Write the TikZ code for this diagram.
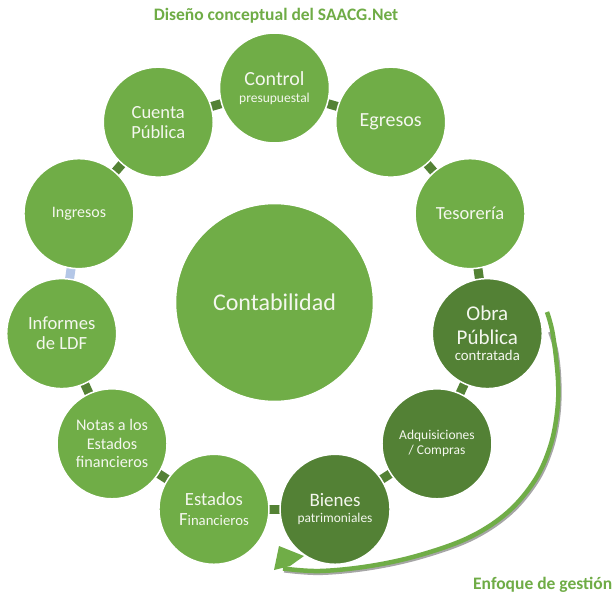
\documentclass[tikz,border=0pt]{standalone}
\usepackage{fontspec}
\setmainfont{Carlito}
\usetikzlibrary{calc}
\definecolor{lg}{HTML}{70AD47}
\definecolor{dg}{HTML}{538135}
\definecolor{cg}{HTML}{548235}
\definecolor{lb}{HTML}{B4C7E7}
\definecolor{txt}{HTML}{F4F7EE}
\definecolor{ttl}{HTML}{6FAC46}
\newcommand\myfs[2]{\fontsize{#1}{#2}\selectfont}
\pgfdeclarelayer{paper}
\pgfdeclarelayer{bg}
\pgfsetlayers{paper,bg,main}
\begin{document}
\begin{tikzpicture}[x=1pt,y=-1pt,
  bub/.style={circle, draw=white, line width=1.5pt, inner sep=0pt,
    minimum size=110pt, text=txt, align=center, fill=lg},
  darkbub/.style={bub, fill=dg},
  link/.style={line width=9pt, draw=cg},
  lightlink/.style={line width=9pt, draw=lb},
  title/.style={font=\bfseries\myfs{17.5}{20}, text=ttl, inner sep=0pt},
  arrowline/.style={line width=4.5pt, draw=lg},
  arrowshadow/.style={line width=4.5pt, draw=black!35},
]
\begin{pgfonlayer}{paper}
  \fill[white] (0,0) rectangle (616,594);
\end{pgfonlayer}
\useasboundingbox (0,0) rectangle (616,594);

% ring positions: centre (274.5,303), radius 215
\def\pos#1{({274.5+215*cos(#1)},{303-215*sin(#1)})}

\node[bub, minimum size=198pt, font=\myfs{24}{26}] (conta) at (274.5,302.5) {Contabilidad};

\node[bub, font=\myfs{20}{17}] (ctrl) at \pos{90} {Control\\{\myfs{13.5}{15}presupuestal}};
\node[bub, font=\myfs{20}{22}] (egr) at \pos{57.27} {Egresos};
\node[bub, font=\myfs{18.5}{20}] (tes) at \pos{24.55} {Tesorería};
\node[darkbub, font=\myfs{21}{24}] (obra) at \pos{-8.18} {Obra\\Pública\\[-8pt]{\myfs{14.8}{16}contratada}};
\node[darkbub, font=\myfs{13.5}{15}] (adq) at \pos{-40.91} {Adquisiciones\\/ Compras};
\node[darkbub, font=\myfs{19}{16}] (bien) at \pos{-73.64} {Bienes\\{\myfs{13.4}{15}patrimoniales}};
\node[bub, font=\myfs{18.6}{20}] (est) at \pos{-106.36} {Estados\\F{\myfs{14.7}{16}inancieros}};
\node[bub, font=\myfs{16.2}{18.5}] (notas) at \pos{-139.09} {Notas a los\\Estados\\financieros};
\node[bub, font=\myfs{18.6}{20}] (inf) at \pos{-171.82} {Informes\\de LDF};
\node[bub, font=\myfs{16}{18}] (ing) at \pos{155.45} {Ingresos};
\node[bub, font=\myfs{18.5}{20}] (cta) at \pos{122.73} {Cuenta\\Pública};

\begin{pgfonlayer}{bg}
  \foreach \a/\b in {ctrl/egr, egr/tes, tes/obra, obra/adq, adq/bien, bien/est,
                     est/notas, notas/inf, ing/cta, cta/ctrl}
    \draw[link] (\a.center) -- (\b.center);
  \draw[lightlink] (inf.center) -- (ing.center);
\end{pgfonlayer}

\node[title, anchor=base] (ttl) at (276,21) {Diseño conceptual del SAACG.Net};
\node[title, anchor=base west] (enf) at (473,589) {Enfoque de gestión};

% curved arrow "Enfoque de gestion"
\coordinate (as) at (547,312);
\coordinate (ae) at (283,568.5);
\draw[arrowshadow, shift={(1.2,1.8)}] plot[smooth, tension=0.6] coordinates {
  (549,330) (555,350) (558,380) (557,413) (550,447) (535,480) (508,512) (470,537)
  (420,555) (370,566) (320,571) (283,568.5)};
\draw[arrowline] plot[smooth, tension=0.6] coordinates {
  (as) (553,335) (558,380) (557,413) (550,447) (535,480) (508,512) (470,537)
  (420,555) (370,566) (320,571) (ae)};
\fill[lg] (274,570) -- (279,546) -- (304,556) -- (290,566) -- cycle;
\end{tikzpicture}
\end{document}
